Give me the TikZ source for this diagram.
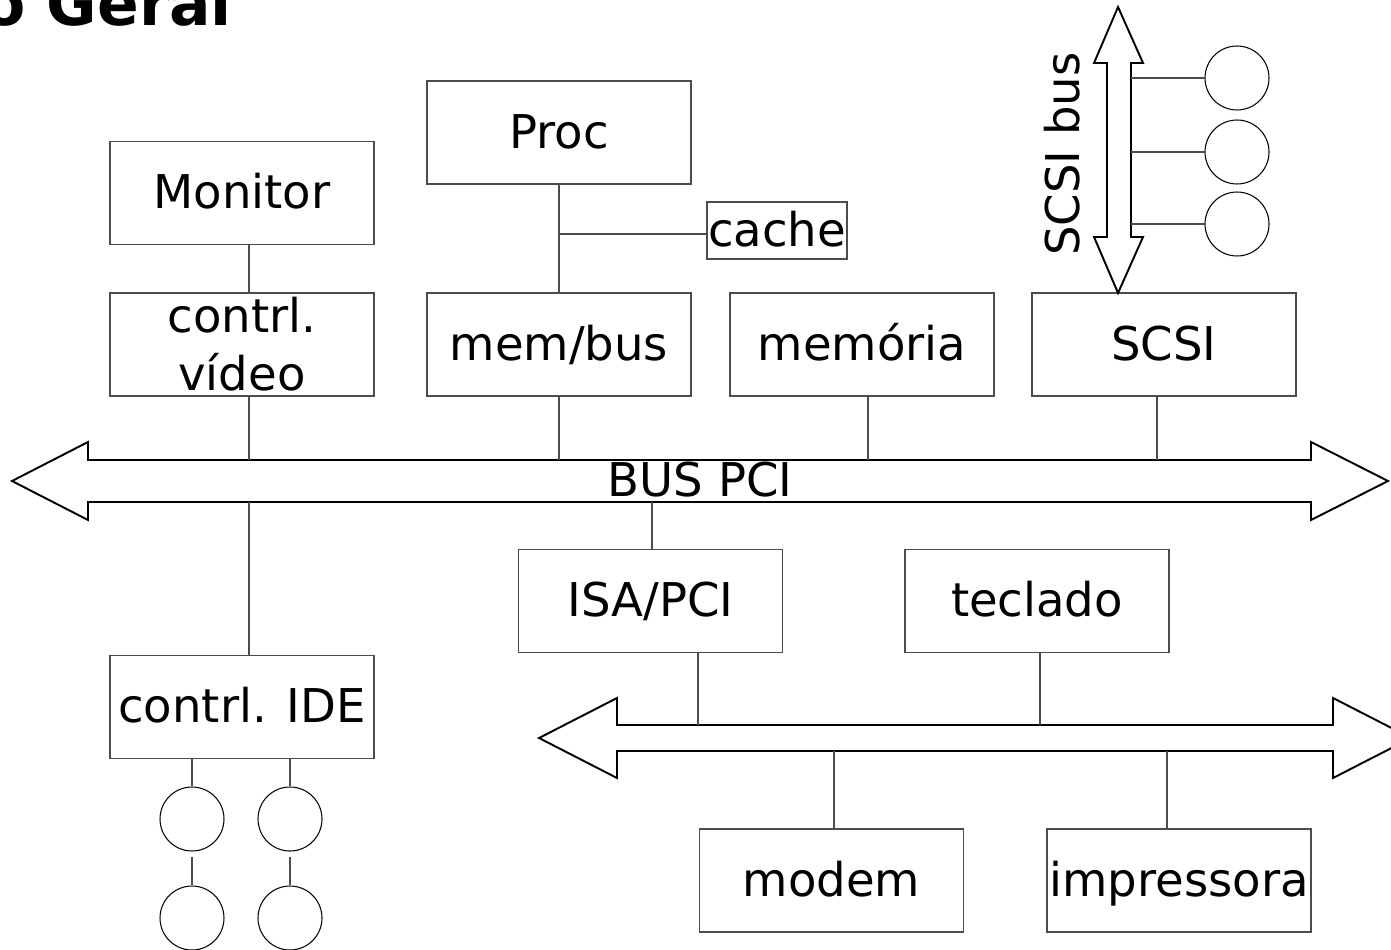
\documentclass[tikz,border=0pt]{standalone}
\usepackage{fontspec}
\setmainfont{DejaVu Sans}
\usetikzlibrary{calc}

\begin{document}
\begin{tikzpicture}[x=0.02cm, y=-0.02cm,
  frame/.style={rectangle, draw=black!70, line width=0.8pt, minimum width=5.28cm, minimum height=2.06cm, inner sep=0pt, align=center, font=\fontsize{26.5}{33}\selectfont},
  lbl/.style={inner sep=0pt, font=\fontsize{26.5}{33}\selectfont, text height=20pt, text depth=2pt},
  box/.style={frame, lbl},
  disk/.style={circle, draw, line width=0.6pt, minimum size=1.28cm, inner sep=0pt},
  wire/.style={draw=black!70, line width=0.6pt},
  bus/.style={draw, line width=1.1pt, line join=miter}
]
  \useasboundingbox (0,0) rectangle (1391,949);

  \node[font=\fontsize{35}{40}\selectfont\bfseries, anchor=base west, inner sep=0pt] (title) at (-17,26) {o Geral};

  \node[box] (mon) at (242,193) {Monitor};
  \node[frame] (vid) at (242,344.5) {contrl.\\vídeo};
  \node[box] (proc) at (559,132.5) {Proc};
  \node[box, minimum width=2.8cm, minimum height=1.14cm] (cache) at (777,230.5) {cache};
  \node[box] (memb) at (559,344.5) {mem/bus};
  \node[box] (mem) at (862,344.5) {memória};
  \node[box] (scsi) at (1164,344.5) {SCSI};
  \node[box] (isa) at (650.5,601) {ISA/PCI};
  \node[box] (tec) at (1037,601) {teclado};
  \node[box] (ide) at (242,707) {contrl. IDE};
  \node[box] (modem) at (831.5,880.5) {modem};
  \node[box] (imp) at (1179,880.5) {impressora};

  \draw[bus] (12,481) -- (88,442) -- (88,460) -- (1311,460) -- (1311,442) -- (1388,481) -- (1311,520) -- (1311,502) -- (88,502) -- (88,520) -- cycle;
  \node[lbl] (pci) at (700,481) {BUS PCI};
  \draw[bus] (539,738) -- (617,698) -- (617,725) -- (1333,725) -- (1333,698) -- (1411,738) -- (1333,778) -- (1333,751) -- (617,751) -- (617,778) -- cycle;
  \draw[bus] (1118,7) -- (1143,63) -- (1131,63) -- (1131,237) -- (1143,237) -- (1118,293) -- (1094,237) -- (1107,237) -- (1107,63) -- (1094,63) -- cycle;
  \node[lbl, rotate=90] (scsibus) at (1064,154) {SCSI bus};

  \coordinate (t1) at (249,460);
  \coordinate (t2) at (559,460);
  \coordinate (t3) at (868,460);
  \coordinate (t4) at (1157,460);
  \coordinate (b1) at (249,502);
  \coordinate (b2) at (652,502);
  \coordinate (u1) at (698,725);
  \coordinate (u2) at (1040,725);
  \coordinate (l1) at (834,751);
  \coordinate (l2) at (1167,751);
  \coordinate (ct) at (559,234);
  \coordinate (sr) at (1131,0);

  \draw[wire] (mon.south -| t1) -- (vid.north -| t1);
  \draw[wire] (vid.south -| t1) -- (t1);
  \draw[wire] (proc) -- (memb);
  \draw[wire] (ct) -- (cache.west |- ct);
  \draw[wire] (memb.south) -- (t2);
  \draw[wire] (mem.south -| t3) -- (t3);
  \draw[wire] (scsi.south -| t4) -- (t4);
  \draw[wire] (b1) -- (ide.north -| b1);
  \draw[wire] (b2) -- (isa.north -| b2);
  \draw[wire] (isa.south -| u1) -- (u1);
  \draw[wire] (tec.south -| u2) -- (u2);
  \draw[wire] (l1) -- (modem.north -| l1);
  \draw[wire] (l2) -- (imp.north -| l2);

  \foreach \n/\y in {s1/78, s2/152, s3/224} {
    \node[disk] (\n) at (1237,\y) {};
    \draw[wire] (\n.west -| sr) -- (\n.west);
  }

  \node[disk] (d1) at (192,819) {};
  \node[disk] (d2) at (290,819) {};
  \node[disk] (d3) at (192,918) {};
  \node[disk] (d4) at (290,918) {};
  \draw[wire] (ide.south -| d1) -- (d1);
  \draw[wire] (ide.south -| d2) -- (d2);
  \draw[wire, shorten <=0.1cm] (d1) -- (d3);
  \draw[wire, shorten <=0.1cm] (d2) -- (d4);
\end{tikzpicture}
\end{document}
